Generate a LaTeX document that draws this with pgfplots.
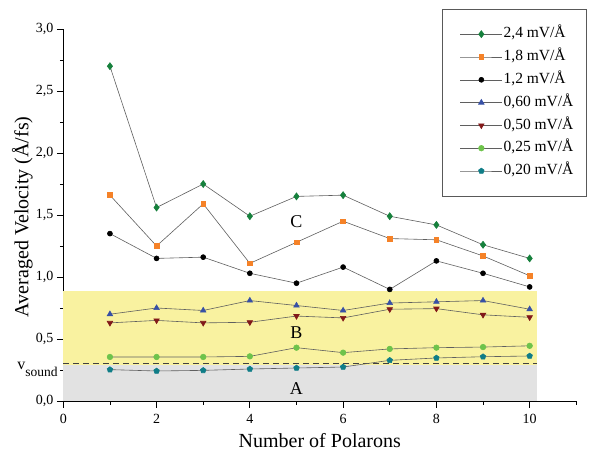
\documentclass[border=0pt]{standalone}
\usepackage{pgfplots}
\pgfplotsset{compat=1.18}
\usepackage{fontspec}
\setmainfont{Liberation Serif}
\usetikzlibrary{plotmarks}
\definecolor{cgreen}{RGB}{22,128,60}
\definecolor{corange}{RGB}{245,130,40}
\definecolor{cblue}{RGB}{55,80,165}
\definecolor{cred}{RGB}{130,25,25}
\definecolor{clgreen}{RGB}{110,195,75}
\definecolor{cteal}{RGB}{15,125,135}
\definecolor{cline}{RGB}{95,95,95}
\definecolor{cyellow}{RGB}{249,242,160}
\definecolor{cgray}{RGB}{226,226,226}
\begin{document}
\begin{tikzpicture}
\begin{axis}[
  scale only axis, width=513pt, height=372pt,
  xmin=0, xmax=11, ymin=0, ymax=3,
  axis x line*=bottom, axis y line*=left,
  axis line style={line width=0.9pt},
  tick align=outside,
  xtick={0,2,4,6,8,10}, minor xtick={1,3,5,7,9,11},
  ytick={0,0.5,1,1.5,2,2.5,3}, minor ytick={0.25,0.75,1.25,1.75,2.25,2.75},
  major tick length=6.5pt, minor tick length=3.5pt,
  every tick/.style={black, line width=0.8pt},
  /pgf/number format/assume math mode=true,
  yticklabel style={/pgf/number format/.cd, fixed, fixed zerofill, precision=1, use comma},
  xticklabel style={yshift=-3pt},
  tick label style={font=\fontsize{14}{17}\selectfont},
  label style={font=\fontsize{20}{24}\selectfont},
  xlabel={Number of Polarons},
  ylabel={Averaged Velocity (Å/fs)},
  xlabel style={at={(axis description cs:0.5,-0.1255)}, anchor=base},
  ylabel style={at={(axis description cs:-0.08,0.495)}, anchor=center},
  clip=false,
  every axis plot/.append style={line width=0.6pt},
  legend cell align=left,
  legend style={at={(0.773,1.0074)}, anchor=north west, draw=none, fill=none,
    inner sep=0pt, row sep=7.3pt,
    font=\fontsize{15.5}{17}\selectfont,
    nodes={inner sep=1pt, text height=10.5pt, text depth=3pt}},
  legend image code/.code={\draw[mark repeat=2, mark phase=2] plot coordinates {(0pt,0pt) (21pt,0pt) (42pt,0pt)};},
]
% regions
\addplot[fill=cyellow, draw=none, forget plot] coordinates {(0,0.29) (10.15,0.29) (10.15,0.89) (0,0.89)} -- cycle;
\addplot[fill=cgray, draw=none, forget plot] coordinates {(0,0) (10.15,0) (10.15,0.29) (0,0.29)} -- cycle;
\addplot[black!75, line width=1.1pt, dash pattern=on 6pt off 4pt, forget plot] coordinates {(0,0.3) (10.15,0.3)};

\addplot[cline, mark=diamond*, mark size=3.5pt, mark options={solid, fill=cgreen, draw=cgreen}] coordinates {
(1,2.70) (2,1.56) (3,1.75) (4,1.49) (5,1.65) (6,1.66) (7,1.49) (8,1.42) (9,1.26) (10,1.15)};
\addlegendentry{2,4 mV/Å}
\addplot[cline, mark=square*, mark size=2.4pt, mark options={solid, fill=corange, draw=corange}] coordinates {
(1,1.66) (2,1.25) (3,1.59) (4,1.11) (5,1.28) (6,1.45) (7,1.31) (8,1.30) (9,1.17) (10,1.01)};
\addlegendentry{1,8 mV/Å}
\addplot[cline, mark=*, mark size=2.5pt, mark options={solid, fill=black, draw=black}] coordinates {
(1,1.35) (2,1.15) (3,1.16) (4,1.03) (5,0.95) (6,1.08) (7,0.90) (8,1.13) (9,1.03) (10,0.92)};
\addlegendentry{1,2 mV/Å}
\addplot[cline, mark=triangle*, mark size=3.2pt, mark options={solid, fill=cblue, draw=cblue}] coordinates {
(1,0.70) (2,0.75) (3,0.73) (4,0.81) (5,0.77) (6,0.73) (7,0.79) (8,0.80) (9,0.81) (10,0.74)};
\addlegendentry{0,60 mV/Å}
\addplot[cline, mark=triangle*, mark size=3.2pt, mark options={solid, fill=cred, draw=cred, rotate=180}] coordinates {
(1,0.63) (2,0.65) (3,0.63) (4,0.635) (5,0.685) (6,0.67) (7,0.74) (8,0.745) (9,0.695) (10,0.675)};
\addlegendentry{0,50 mV/Å}
\addplot[cline, mark=*, mark size=2.8pt, mark options={solid, fill=clgreen, draw=clgreen}] coordinates {
(1,0.355) (2,0.355) (3,0.355) (4,0.36) (5,0.43) (6,0.39) (7,0.42) (8,0.43) (9,0.435) (10,0.445)};
\addlegendentry{0,25 mV/Å}
\addplot[cline, mark=pentagon*, mark size=2.9pt, mark options={solid, fill=cteal, draw=cteal}] coordinates {
(1,0.253) (2,0.242) (3,0.247) (4,0.258) (5,0.266) (6,0.274) (7,0.328) (8,0.347) (9,0.357) (10,0.363)};
\addlegendentry{0,20 mV/Å}

\draw[black!65, line width=0.9pt] (axis cs:8.137,3.159) rectangle (axis cs:11.21,1.648);
\node[font=\fontsize{18}{20}\selectfont] at (axis cs:5,1.45) {C};
\node[font=\fontsize{18}{20}\selectfont] at (axis cs:5,0.55) {B};
\node[font=\fontsize{18}{20}\selectfont] at (axis cs:5,0.10) {A};
\node[anchor=base west, inner sep=0pt] at (axis cs:-0.99,0.258) {{\fontsize{16}{18}\selectfont v}\raisebox{-7pt}{\fontsize{13.5}{15}\selectfont sound}};
\end{axis}
\pgfresetboundingbox
\path[use as bounding box] (-63.3pt,-50pt) rectangle (526.7pt,401pt);
\end{tikzpicture}
\end{document}
